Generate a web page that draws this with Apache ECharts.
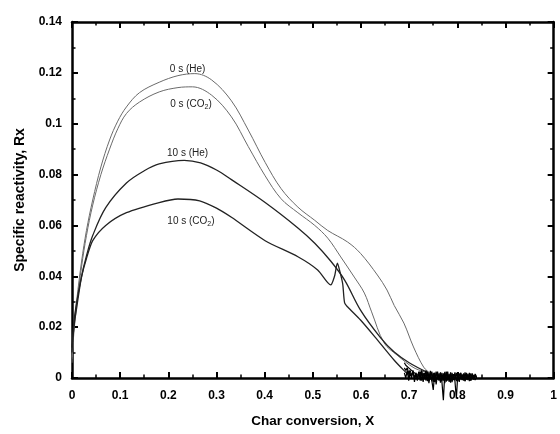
<!DOCTYPE html>
<html><head><meta charset="utf-8">
<script src="https://cdn.jsdelivr.net/npm/echarts@6/dist/echarts.min.js"></script>
<style>html,body{margin:0;padding:0;background:#fff}#c{width:560px;height:434px}</style>
</head><body><div id="c"></div>
<script>
// X (char conversion) and Rx values for each run
const he0X = [0,0.004,0.01,0.02,0.03,0.043,0.06,0.078,0.095,0.113,0.14,0.181,0.22,0.255,0.29,0.331,0.366,0.401,0.434,0.469,0.504,0.531,0.572,0.599,0.634,0.654,0.669,0.689,0.709,0.73,0.743];
const he0Y = [0.008,0.02,0.031,0.046,0.058,0.07,0.083,0.0936,0.101,0.1066,0.1122,0.1163,0.1189,0.1197,0.1172,0.109,0.0975,0.0848,0.0745,0.0672,0.062,0.058,0.0535,0.049,0.0405,0.0346,0.0285,0.0216,0.0122,0.0043,0.002];
const co0X = [0,0.004,0.01,0.02,0.03,0.043,0.06,0.078,0.095,0.113,0.14,0.181,0.22,0.25,0.29,0.331,0.366,0.401,0.434,0.469,0.504,0.531,0.558,0.586,0.607,0.622,0.648,0.675,0.71,0.74];
const co0Y = [0.006,0.018,0.029,0.044,0.056,0.068,0.08,0.09,0.098,0.104,0.1085,0.1125,0.1142,0.1145,0.1112,0.1027,0.091,0.0795,0.0705,0.065,0.06,0.055,0.0476,0.0397,0.0334,0.026,0.0138,0.009,0.004,0.002];
const he10X = [0,0.004,0.01,0.02,0.03,0.043,0.07,0.113,0.15,0.181,0.233,0.267,0.3,0.331,0.401,0.469,0.504,0.537,0.566,0.599,0.64,0.669,0.7,0.74];
const he10Y = [0.01,0.02,0.028,0.04,0.048,0.056,0.067,0.0767,0.0815,0.0842,0.0856,0.0846,0.0818,0.078,0.069,0.059,0.053,0.046,0.0385,0.0267,0.016,0.0102,0.006,0.002];
const co10X = [0,0.004,0.01,0.02,0.03,0.043,0.07,0.113,0.181,0.22,0.265,0.3,0.331,0.401,0.469,0.51,0.537,0.545,0.551,0.556,0.562,0.566,0.572,0.599,0.634,0.669,0.689,0.7];
const co10Y = [0.012,0.022,0.03,0.04,0.047,0.054,0.06,0.065,0.069,0.0704,0.0697,0.0668,0.0632,0.054,0.0477,0.0425,0.0366,0.04,0.0452,0.042,0.037,0.0295,0.028,0.0228,0.015,0.007,0.003,0.001];
// noisy tails near zero after burn-out
const tailX = [0.690,0.693,0.696,0.699,0.702,0.705,0.708,0.711,0.714,0.717,0.720,0.723,0.726,0.729,0.732,0.735,0.738,0.741,0.744,0.747,0.750,0.753,0.756,0.759,0.762,0.765,0.768,0.771,0.774,0.777,0.780,0.783,0.786,0.789,0.792,0.795,0.798,0.801,0.804,0.807,0.810,0.813,0.816,0.819,0.822,0.825,0.828,0.831,0.834,0.837,0.840];
const tailA = [0.002,0.0,0.003,-0.001,0.002,0.0,0.003,-0.0015,0.002,-0.0005,
  0.0025,-0.001,0.003,-0.0015,0.002,-0.001,0.0025,-0.002,0.0015,-0.001,
  -0.0047,0.002,-0.0015,0.0025,-0.001,0.002,-0.0015,-0.0087,0.002,-0.001,
  0.0025,-0.0015,0.002,-0.001,0.0015,-0.0012,-0.008,0.0018,-0.001,0.002,
  -0.0008,0.0015,-0.0012,0.002,-0.0005,0.0015,-0.001,0.0018,-0.0006,0.0012,0.0];
const tailB = [0.004,0.003,0.004,0.002,0.003,0.001,0.0025,0.0,0.002,-0.001,
  0.0015,0.0025,-0.001,0.002,0.0,0.003,-0.0012,0.002,-0.0005,0.0025,
  -0.0015,0.002,-0.0025,0.0015,-0.0008,0.0022,-0.0012,0.0018,-0.002,0.0025,
  -0.001,0.0015,-0.0018,0.002,-0.0008,0.0022,-0.0012,0.0015,-0.0015,0.002,
  -0.0006,0.0018,-0.0012,0.0015,-0.0008,0.002,-0.001,0.0014,-0.0004,0.0016,0.0005];
const tailC = [0.006,0.005,0.005,0.004,0.004,0.003,0.003,0.002,0.0025,0.001,
  0.002,0.0,0.0025,-0.0008,0.0018,0.0005,0.0022,-0.001,0.0028,-0.0012,
  0.002,-0.0015,0.0025,-0.0005,0.0018,-0.0018,0.002,-0.001,0.0024,-0.0014,
  0.0016,-0.0009,0.0022,-0.0016,0.0012,-0.0006,0.002,-0.0012,0.0018,-0.0004,
  0.0014,-0.001,0.0022,-0.0006,0.0016,-0.0012,0.0018,-0.0004,0.0012,-0.0008,0.0006];
const xTicks = [0,0.1,0.2,0.3,0.4,0.5,0.6,0.7,0.8,0.9,1];
const yTicks = [0,0.02,0.04,0.06,0.08,0.1,0.12,0.14];

const pairs = (xs, ys) => xs.map((x, i) => [x, ys[i]]);
const chart = echarts.init(document.getElementById('c'), null, {renderer: 'canvas'});
const FONT = 'Liberation Sans, Arial, sans-serif';
const axisCommon = {
  axisLine: {show: true, onZero: false, lineStyle: {color: '#000', width: 2.5}},
  axisTick: {show: true, inside: true, length: 6, lineStyle: {color: '#000', width: 2}},
  minorTick: {show: true, splitNumber: 2, length: 3.5, lineStyle: {color: '#000', width: 1.5}},
  splitLine: {show: false}
};
const fmt = v => {
  const r = Math.round(v * 100) / 100;
  return (xTicks.concat(yTicks).indexOf(r) >= 0) ? r.toString() : '';
};
function line(data, color, width, smooth, z) {
  return {type: 'line', data, showSymbol: false, symbol: 'none', clip: false, z: z || 2,
    smooth: smooth, lineStyle: {color, width}, animation: false};
}
chart.setOption({
  animation: false,
  grid: {left: 72, right: 2, top: 22, bottom: 56},
  xAxis: [
    Object.assign({type: 'value', min: 0, max: 1, interval: 0.1, position: 'bottom',
      name: 'Char conversion, X', nameLocation: 'middle', nameGap: 36,
      nameTextStyle: {fontFamily: FONT, fontWeight: 'bold', fontSize: 13.5, color: '#000'},
      axisLabel: {fontFamily: FONT, fontWeight: 'bold', fontSize: 12, color: '#000', margin: 12, formatter: fmt}}, axisCommon),
    Object.assign({type: 'value', min: 0, max: 1, interval: 0.1, position: 'top', axisLabel: {show: false}}, axisCommon)
  ],
  yAxis: [
    Object.assign({type: 'value', min: 0, max: 0.14, interval: 0.02, position: 'left',
      name: 'Specific reactivity, Rx', nameLocation: 'middle', nameGap: 45,
      nameTextStyle: {fontFamily: FONT, fontWeight: 'bold', fontSize: 14, color: '#000'},
      axisLabel: {fontFamily: FONT, fontWeight: 'bold', fontSize: 12, color: '#000', margin: 10, formatter: fmt}}, axisCommon),
    Object.assign({type: 'value', min: 0, max: 0.14, interval: 0.02, position: 'right', axisLabel: {show: false}}, axisCommon)
  ],
  series: [
    line(pairs(he0X, he0Y), '#6a6a6a', 1, 0.35),
    line(pairs(co0X, co0Y), '#6a6a6a', 1, 0.35),
    line(pairs(he10X, he10Y), '#222', 1.3, 0.35),
    line(pairs(co10X, co10Y), '#222', 1.3, 0.25),
    line(pairs(tailX, tailA), '#000', 1.2, false, 3),
    line(pairs(tailX, tailB), '#000', 1.2, false, 3),
    line(pairs(tailX, tailC), '#000', 1.2, false, 3)
  ]
});
// curve annotations
const labels = [
  {x: 0.24, y: 0.1215, t: '0 s (He)'},
  {x: 0.247, y: 0.1075, t: '0 s ({s|CO}{sub|2})'},
  {x: 0.24, y: 0.0885, t: '10 s (He)'},
  {x: 0.247, y: 0.0615, t: '10 s ({s|CO}{sub|2})'}
];
chart.setOption({graphic: labels.map(l => {
  const p = chart.convertToPixel({xAxisIndex: 0, yAxisIndex: 0}, [l.x, l.y]);
  return {type: 'text', x: p[0], y: p[1], z: 10, style: {text: l.t, fill: '#222', font: '10px ' + FONT,
    align: 'center', verticalAlign: 'middle',
    rich: {s: {fontSize: 10, fontFamily: FONT, fill: '#222'}, sub: {fontSize: 7, fontFamily: FONT, fill: '#222', padding: [5, 0, 0, 0]}}}};
})});
</script></body></html>
